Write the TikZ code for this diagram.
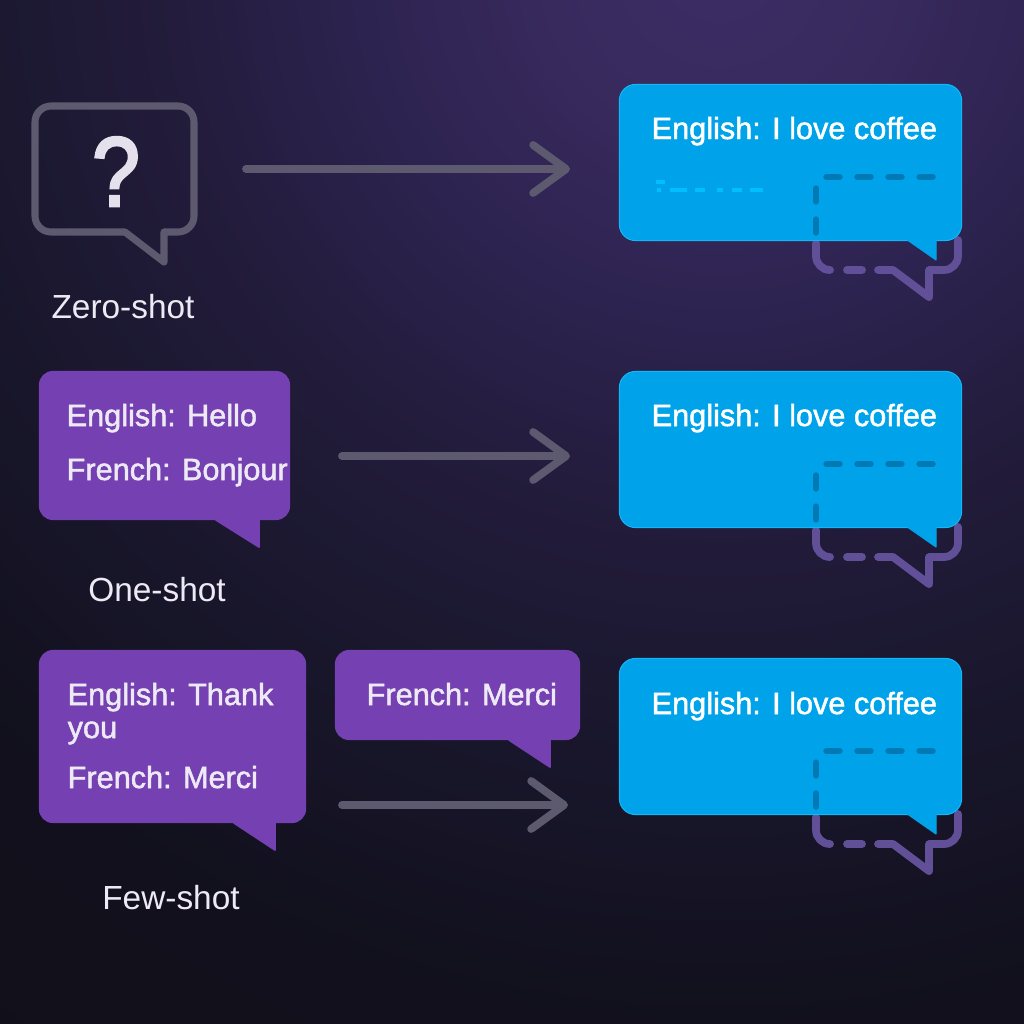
\documentclass[tikz,border=0pt]{standalone}
\usepackage{xcolor}
\usepackage{fontspec}
\setmainfont{Liberation Sans}
\newfontfamily\medfont[FakeBold=1.6]{Liberation Sans}
\newfontfamily\askfont[FakeBold=3]{Liberation Sans}
\usetikzlibrary{arrows.meta, positioning, calc}
\definecolor{answerblue}{RGB}{0, 162, 234}
\definecolor{answeredge}{RGB}{20, 182, 248}
\definecolor{answerdash}{RGB}{0, 190, 255}
\definecolor{shotpurple}{RGB}{116, 64, 178}
\definecolor{ghostpurple}{RGB}{97, 80, 152}
\definecolor{ghostblue}{RGB}{0, 121, 181}
\definecolor{arrowgray}{RGB}{93, 90, 112}
\definecolor{labelwhite}{RGB}{238, 234, 245}
\pgfdeclareradialshading{nightglow}{\pgfpoint{0bp}{0bp}}{%
  rgb(0bp)=(0.235,0.180,0.400);
  rgb(3bp)=(0.220,0.165,0.365);
  rgb(6.4bp)=(0.176,0.137,0.314);
  rgb(9.8bp)=(0.137,0.110,0.235);
  rgb(13bp)=(0.106,0.094,0.188);
  rgb(19bp)=(0.067,0.063,0.110);
  rgb(25bp)=(0.067,0.063,0.100);
  rgb(50bp)=(0.067,0.063,0.100)}

\begin{document}
\begin{tikzpicture}[
  x=0.01cm, y=-0.01cm,
  answer/.style={draw=answeredge, fill=answerblue, line width=0.3pt, rounded corners=0.16cm, minimum width=3.42cm, minimum height=1.56cm, inner sep=0pt},
  answertail/.style={fill=answerblue, draw=answerblue, line width=0.3pt, line join=round},
  shot/.style={fill=shotpurple, rounded corners=0.14cm, inner sep=0pt},
  shottail/.style={fill=shotpurple, draw=shotpurple, line width=0.5pt, line join=round},
  ghost/.style={ghostpurple, line width=2.2pt, line cap=round, line join=round},
  ghostdash/.style={ghostblue, line width=1.8pt, line cap=round, dash pattern=on 3.7pt off 5.12pt},
  conn/.style={-{Straight Barb[length=0.33cm, width=0.48cm, round]}, arrowgray, line width=2.2pt, line cap=round},
  sample/.style={font=\medfont\fontsize{8.72}{11}\selectfont, color=labelwhite, anchor=base west, inner sep=0pt},
  outtext/.style={font=\medfont\fontsize{8.72}{11}\selectfont, color=white, anchor=base west, inner sep=0pt},
  shotlabel/.style={font=\fontsize{9.5}{11}\selectfont, color=labelwhite, anchor=base, inner sep=0pt}
]
\useasboundingbox (0,0) rectangle (1024,1024);

% Background
\begin{scope}
\clip (0,0) rectangle (1024,1024);
\shade[shading=nightglow] (720,-40) circle (1400);
\end{scope}

% Zero-shot
\draw[arrowgray, line width=2pt, line join=round, rounded corners=0.16cm] (125,232) -- (35,232) -- (35,106) -- (194,106) -- (194,232) -- (164,232);
\draw[arrowgray, line width=2pt, line join=round, line cap=round] (125,232) -- (164,262) -- (164,232);
\node[font=\askfont\fontsize{28}{30}\selectfont, color=labelwhite!92!gray, anchor=base, inner sep=0pt] (zeroq) at (116,206) {\scalebox{0.87}[1]{?}};
\node[shotlabel] (zerolabel) at (123,318) {Zero-shot};

% One-shot
\node[shot, minimum width=2.51cm, minimum height=1.49cm] (one) at (164.5,445.5) {};
\fill[shottail] (216,520) -- (259,547) -- (259,520) -- cycle;
\node[sample] (onea) at (66,426) {English: Hello};
\node[sample] (oneb) at (66,480) {French: Bonjour};
\node[shotlabel] (onelabel) at (157,601) {One-shot};

% Few-shot
\node[shot, minimum width=2.67cm, minimum height=1.73cm] (few) at (172.5,736.5) {};
\fill[shottail] (234,823) -- (275,850) -- (275,823) -- cycle;
\node[sample] (fewa) at (67,705) {English: Thank};
\node[sample] (fewb) at (67,738) {you};
\node[sample] (fewc) at (67,788) {French: Merci};
\node[shot, minimum width=2.45cm, minimum height=0.9cm] (merci) at (457.5,695) {};
\fill[shottail] (509,740) -- (550,767) -- (550,740) -- cycle;
\node[sample] (mercia) at (366,705) {French: Merci};
\node[shotlabel] (fewlabel) at (171,909) {Few-shot};

% Answer 1
\draw[ghost] (816,243) -- (816,256) arc[start angle=180, end angle=90, radius=14] (830,270) -- (830,270);
\draw[ghost] (847,270) -- (862,270);
\draw[ghost] (878,270) -- (893,270) -- (929,297) -- (929,270) -- (944,270) arc[start angle=90, end angle=0, radius=14] (958,256) -- (958,240);
\node[answer] (outa) at (790.5,162.5) {};
\fill[answertail] (908,240.5) -- (936,260) -- (936,240.5) -- cycle;
\draw[ghostdash] (826.5,177) -- (933,177);
\draw[ghostdash] (816,188.5) -- (816,233);
\draw[answerdash, line width=1.1pt, dash pattern=on 4.8pt off 2.3pt on 2.8pt off 3.4pt on 1.7pt off 2.6pt on 2.8pt off 2.3pt on 3.7pt off 9pt] (670,190) -- (763,190);
\draw[answerdash, line width=1.1pt] (657,190) -- (661,190);
\draw[answerdash, line width=1.1pt] (656,182) -- (665,182);
\node[outtext] (outatext) at (651,139) {English: I love coffee};

% Answer 2
\draw[ghost] (816,530) -- (816,543) arc[start angle=180, end angle=90, radius=14] (830,557) -- (830,557);
\draw[ghost] (847,557) -- (862,557);
\draw[ghost] (878,557) -- (893,557) -- (929,584) -- (929,557) -- (944,557) arc[start angle=90, end angle=0, radius=14] (958,543) -- (958,527);
\node[answer] (outb) at (790.5,449.5) {};
\fill[answertail] (908,527.5) -- (936,547) -- (936,527.5) -- cycle;
\draw[ghostdash] (826.5,464) -- (933,464);
\draw[ghostdash] (816,475.5) -- (816,520);
\node[outtext] (outbtext) at (651,426) {English: I love coffee};

% Answer 3
\draw[ghost] (816,817) -- (816,830) arc[start angle=180, end angle=90, radius=14] (830,844) -- (830,844);
\draw[ghost] (847,844) -- (862,844);
\draw[ghost] (878,844) -- (893,844) -- (929,871) -- (929,844) -- (944,844) arc[start angle=90, end angle=0, radius=14] (958,830) -- (958,814);
\node[answer] (outc) at (790.5,736.5) {};
\fill[answertail] (908,814.5) -- (936,834) -- (936,814.5) -- cycle;
\draw[ghostdash] (826.5,751) -- (933,751);
\draw[ghostdash] (816,762.5) -- (816,807);
\node[outtext] (outctext) at (651,714) {English: I love coffee};

% Connections
\coordinate (zerofrom) at (246,169);
\coordinate (zeroto) at (570,169);
\coordinate (onefrom) at (342,456);
\coordinate (oneto) at (570,456);
\coordinate (fewfrom) at (342,805);
\coordinate (fewto) at (568,805);
\draw[conn] (zerofrom) -- (zeroto);
\draw[conn] (onefrom) -- (oneto);
\draw[conn] (fewfrom) -- (fewto);

\end{tikzpicture}
\end{document}
